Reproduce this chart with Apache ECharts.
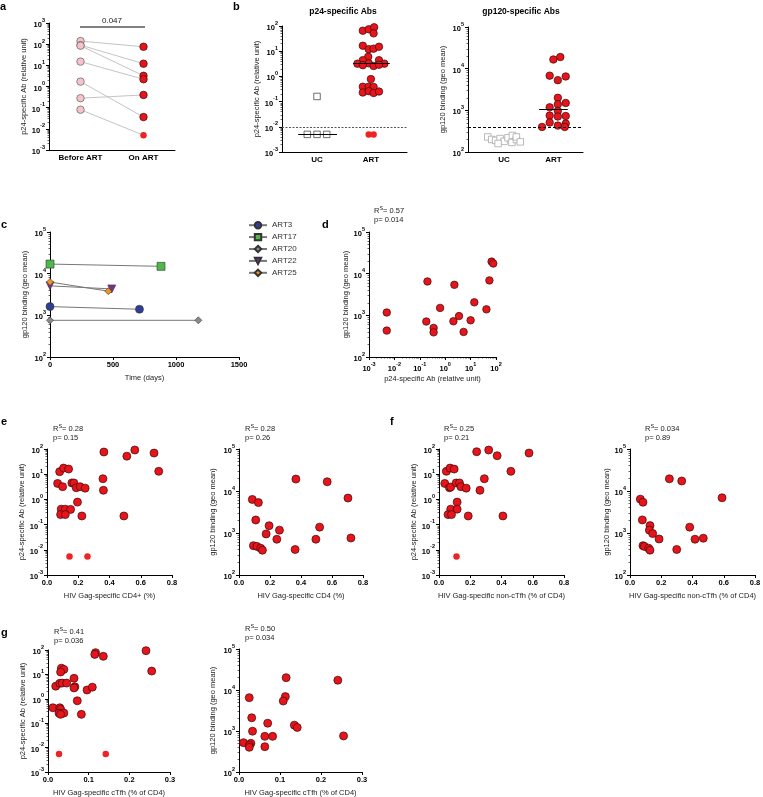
<!DOCTYPE html>
<html><head><meta charset="utf-8">
<script src="https://cdn.jsdelivr.net/npm/echarts@6/dist/echarts.min.js"></script>
<style>html,body{margin:0;padding:0;background:#fff}#c{width:763px;height:797px}</style>
</head><body><div id="c"></div>
<script>
// ---------------- DATA ----------------
// Panel a
const aBefore = [140, 90, 85, 15, 1.7, 0.28, 0.08];
const aOn     = [75, 12, 3.2, 2.2, 0.036, 0.4, 0.005];
const aCats   = ['Before ART', 'On ART'];
// Panel b p24
const bCats = ['UC', 'ART'];
const ucP24 = [0.16, 0.005, 0.005, 0.005];
const ucP24Jit = [0, -0.18, 0, 0.18];
const artP24 = [65,74,89,51, 16.5,12,12.6,15, 6.0, 4.4,4.4,3.2,3.3,3.2,2.6,2.8,2.9, 0.78, 0.39,0.39,0.38, 0.23,0.26,0.22,0.25, 0.005,0.005];
const artP24Jit = [-0.15,-0.04,0.06,0.05, -0.15,-0.04,0.05,0.15, -0.05, -0.15,0.15,-0.25,-0.04,0.25,0.05,-0.15,0.15, 0, -0.15,-0.04,0.05, -0.15,-0.04,0.05,0.15, -0.04,0.05];
const p24Cutoff = 0.014;
const ucP24Median = 0.005, artP24Median = 3.3;
// Panel b gp120
const ucGp = [230,200,190,210,180,220,170,250,200,230,175,160];
const ucGpJit = [-0.33,-0.25,-0.17,-0.08,0,0.08,0.16,0.17,0.25,0.25,0.33,-0.12];
const artGp = [19000,16600,6800,6500,5300,2000,1500,1400,1180,970,750,710,730,510,480,430,400,400];
const artGpJit = [0.14,0,-0.075,0.25,0.09,0.09,0.25,0.09,-0.075,0.09,-0.075,0.09,0.25,-0.075,0.25,0.09,-0.23,0.23];
const gpCutoff = 400, artGpMedian = 1070;
// Panel c
const cNames = ['ART3','ART17','ART20','ART22','ART25'];
const cDays  = [[0,710],[0,881],[0,1177],[0,490],[0,463]];
const cGp    = [[1620,1400],[17000,15000],[760,760],[5100,4300],[6300,3800]];
// Panel d
const dP24 = [0.005,0.005,0.18,0.2,0.35,0.35,0.63,2.3,2.1,3.5,5.3,10,14,42,55,67,78];
const dGp  = [1170,430,710,6500,500,390,1510,5400,720,960,400,760,2050,1390,6900,19500,17500];
// Panel e
const eCD4 = [0.364,0.562,0.511,0.685,0.715,0.081,0.106,0.138,0.068,0.10,0.159,0.172,0.187,0.212,0.244,0.358,0.361,0.195,0.091,0.117,0.151,0.087,0.117,0.223,0.492,0.144,0.259];
const eP24 = [76,91,52,69,13,12.6,17.5,16,4.3,3.2,4.5,4.5,2.9,3.2,2.8,6.6,2.3,0.78,0.41,0.41,0.40,0.25,0.25,0.22,0.22,0.0054,0.0054];
const eCD4g = [0.367,0.569,0.703,0.086,0.125,0.108,0.194,0.261,0.52,0.175,0.244,0.496,0.722,0.093,0.116,0.14,0.151,0.362];
const eGp   = [19200,16600,6800,6300,5300,2040,1490,1170,1380,950,710,710,760,500,480,435,390,405];
// Panel f
const fNon = [0.241,0.318,0.372,0.576,0.46,0.047,0.071,0.097,0.037,0.067,0.075,0.11,0.131,0.14,0.174,0.29,0.262,0.116,0.075,0.116,0.058,0.08,0.187,0.409,0.112];
const fP24 = [78,91,54,69,13,13,17.5,16,4.3,2.9,3.1,4.5,4.5,3.2,2.8,6.6,2.3,0.78,0.41,0.41,0.25,0.25,0.22,0.22,0.0054];
const fNonG = [0.252,0.331,0.589,0.066,0.083,0.079,0.128,0.124,0.382,0.145,0.186,0.416,0.469,0.083,0.092,0.119,0.128,0.299];
const fGp   = [19500,17300,6900,6400,5400,2050,1500,1170,1380,970,720,710,750,500,480,435,390,405];
// Panel g
const gTfh = [0.241,0.117,0.115,0.136,0.255,0.033,0.039,0.031,0.064,0.019,0.029,0.035,0.046,0.066,0.064,0.096,0.109,0.072,0.012,0.029,0.031,0.027,0.039,0.031,0.082,0.027,0.142];
const gP24 = [94,78,66,55,13.7,18,16,12.5,6.9,3.3,4.3,4.4,4.4,3.1,2.8,2.3,3.0,0.83,0.43,0.43,0.37,0.26,0.26,0.23,0.23,0.0055,0.0055];
const gTfhG = [0.115,0.241,0.025,0.113,0.108,0.031,0.070,0.135,0.142,0.033,0.063,0.082,0.255,0.011,0.029,0.025,0.025,0.063];
const gGp   = [20000,17300,6500,6900,5400,2100,1550,1390,1220,990,740,740,760,520,500,450,400,415];
// Stats
const stats = [
  {rs:'0.57', p:'0.014'}, // d
  {rs:'0.28', p:'0.15'},  // e1
  {rs:'0.28', p:'0.26'},  // e2
  {rs:'0.25', p:'0.21'},  // f1
  {rs:'0.034', p:'0.89'}, // f2
  {rs:'0.41', p:'0.036'}, // g1
  {rs:'0.50', p:'0.034'}  // g2
];
const pairP = '0.047';

// ---------------- STYLE / LAYOUT ----------------
const FONT = "'Liberation Sans', Arial, Helvetica, sans-serif";
const RED = '#e8141b', REDB = '#3b0a0a';
const NAME_P24 = 'p24-specific Ab (relative unit)';
const NAME_GP = 'gp120 binding (geo mean)';
const grids = [
  [49,23,126,127],[282,26,125,126],[468,27,115,125],
  [50,232,189,125],[369,232,127,125],
  [47,449,125,126],[239,449,124,126],[439,449,125,126],[630,449,125,126],
  [48,650,122,122],[239,649,123,123]
];
const tickLab = {fontFamily:FONT,fontSize:7.5,fontWeight:'bold',color:'#000'};
const nameStyle = {fontFamily:FONT,fontSize:7.5,color:'#222'};
const axisLine = {show:true,onZero:false,lineStyle:{color:'#000',width:1}};
const axisTick = {show:true,length:3,inside:false,lineStyle:{color:'#000',width:1}};
const supFmt = v => '{b|10}{s|' + Math.round(Math.log10(v)) + '}';
const supRich = {
  b:{fontFamily:FONT,fontSize:7.5,fontWeight:'bold',color:'#000',lineHeight:12,verticalAlign:'bottom'},
  s:{fontFamily:FONT,fontSize:5.5,fontWeight:'bold',color:'#000',lineHeight:7,verticalAlign:'top'}
};
function addName(ax, name, gap, isX){
  if(!name) return ax;
  ax.name = name; ax.nameLocation = 'middle'; ax.nameGap = gap; ax.nameTextStyle = nameStyle;
  if(!isX) ax.nameRotate = 90;
  return ax;
}
function logAxis(grid,min,max,name,gap,isX){
  return addName({type:'log',logBase:10,gridIndex:grid,min,max,axisLine,axisTick,
    minorTick:{show:true,splitNumber:9,length:1.5,lineStyle:{color:'#000',width:0.6}},
    splitLine:{show:false},minorSplitLine:{show:false},
    axisLabel:{formatter:supFmt,rich:supRich,margin:4}}, name, gap, isX);
}
function valAxis(grid,min,max,interval,name,gap,fmt){
  return addName({type:'value',gridIndex:grid,min,max,interval,axisLine,axisTick,
    splitLine:{show:false},
    axisLabel:Object.assign({formatter:fmt,margin:4},tickLab)}, name, gap, true);
}
function catAxis(grid,min,max,labels){
  return {type:'value',gridIndex:grid,min,max,axisLine,axisTick:{show:false},splitLine:{show:false},
    axisLabel:Object.assign({customValues:[1,2],formatter:v=>labels[Math.round(v)-1]||'',margin:4},tickLab,{fontSize:8})};
}
// points below detection limit are drawn as plain, slightly smaller dots
const LOD = 0.006;
function pt(x,y){
  return y <= LOD ? {value:[x,y],symbolSize:6.5,itemStyle:{borderWidth:0,color:'#ee2424',opacity:1}} : [x,y];
}
const zip = (a,b)=>a.map((v,i)=>pt(v,b[i]));
function scat(i,data,opt){
  const s = Object.assign({type:'scatter',xAxisIndex:i,yAxisIndex:i,data,symbol:'circle',symbolSize:8,clip:false,silent:true,z:3,
    itemStyle:{color:RED,borderColor:REDB,borderWidth:0.7}},opt||{});
  s.itemStyle = Object.assign({opacity:1}, s.itemStyle);
  return s;
}
function hSeg(x1,x2,y){ return [{coord:[x1,y]},{coord:[x2,y]}]; }

const xAxes = [
  catAxis(0,0.5,2.5,aCats),
  catAxis(1,0.35,2.67,bCats),
  catAxis(2,0.27,2.6,bCats),
  valAxis(3,0,1500,500,'Time (days)',17,v=>String(v)),
  logAxis(4,0.001,100,NAME_P24,18,true),
  valAxis(5,0,0.8,0.2,'HIV Gag-specific CD4+ (%)',17,v=>v.toFixed(1)),
  valAxis(6,0,0.8,0.2,'HIV Gag-specific CD4 (%)',17,v=>v.toFixed(1)),
  valAxis(7,0,0.8,0.2,'HIV Gag-specific non-cTfh (% of CD4)',17,v=>v.toFixed(1)),
  valAxis(8,0,0.8,0.2,'HIV Gag-specific non-cTfh (% of CD4)',17,v=>v.toFixed(1)),
  valAxis(9,0,0.3,0.1,'HIV Gag-specific cTfh (% of CD4)',17,v=>v.toFixed(1)),
  valAxis(10,0,0.3,0.1,'HIV Gag-specific cTfh (% of CD4)',17,v=>v.toFixed(1))
];
const yAxes = [
  logAxis(0,0.001,1000,NAME_P24,20),
  logAxis(1,0.001,100,NAME_P24,19),
  logAxis(2,100,100000,NAME_GP,21),
  logAxis(3,100,100000,NAME_GP,21),
  logAxis(4,100,100000,NAME_GP,18),
  logAxis(5,0.001,100,NAME_P24,19),
  logAxis(6,100,100000,NAME_GP,22),
  logAxis(7,0.001,100,NAME_P24,20),
  logAxis(8,100,100000,NAME_GP,17),
  logAxis(9,0.001,100,NAME_P24,19),
  logAxis(10,100,100000,NAME_GP,22)
];

const series = [];
// a
aBefore.forEach((b,i)=>series.push({type:'line',xAxisIndex:0,yAxisIndex:0,data:[[1,b],[2,aOn[i]]],symbol:'none',silent:true,z:1,
  lineStyle:{color:'#c4c4c4',width:1}}));
series.push(scat(0,aBefore.map(v=>[1,v]),{symbolSize:7.5,itemStyle:{color:'#f6c3ca',borderColor:'#6f6f6f',borderWidth:0.8}}));
series.push(scat(0,aOn.map(v=>pt(2,v)),{symbolSize:7.5}));
// b p24
const mlBase = {symbol:['none','none'],silent:true,label:{show:false},emphasis:{disabled:true}};
series.push(scat(1,ucP24.map((v,i)=>[1+ucP24Jit[i],v]),{symbol:'rect',symbolSize:6.5,itemStyle:{color:'#fff',borderColor:'#4a4a4a',borderWidth:0.8},
  markLine:Object.assign({},mlBase,{data:[hSeg(0.65,1.37,ucP24Median)],lineStyle:{color:'#000',width:1,type:'solid'}})}));
series.push(scat(1,artP24.map((v,i)=>pt(2+artP24Jit[i],v)),{symbolSize:7.5,
  markLine:Object.assign({},mlBase,{data:[hSeg(1.67,2.35,artP24Median)],lineStyle:{color:'#000',width:1,type:'solid'}})}));
series.push({type:'line',xAxisIndex:1,yAxisIndex:1,data:[],markLine:Object.assign({},mlBase,{data:[{yAxis:p24Cutoff}],lineStyle:{color:'#555',width:1,type:[2,1.5]}})});
// b gp120
series.push(scat(2,ucGp.map((v,i)=>[1+ucGpJit[i],v]),{symbol:'rect',symbolSize:6.5,itemStyle:{color:'#fff',borderColor:'#a8a8a8',borderWidth:0.8}}));
series.push(scat(2,artGp.map((v,i)=>[2+artGpJit[i],v]),{symbolSize:7.5,
  markLine:Object.assign({},mlBase,{data:[hSeg(1.71,2.29,artGpMedian)],lineStyle:{color:'#000',width:1,type:'solid'}})}));
series.push({type:'line',xAxisIndex:2,yAxisIndex:2,data:[],markLine:Object.assign({},mlBase,{data:[{yAxis:gpCutoff}],lineStyle:{color:'#000',width:1,type:[3,2]}})});
// c
const cStyle = [
  {symbol:'circle',size:8,color:'#2f3f95',rot:0},
  {symbol:'rect',size:8,color:'#4fb848',rot:0},
  {symbol:'diamond',size:7,color:'#8a8a8a',rot:0},
  {symbol:'triangle',size:8,color:'#7e2e8f',rot:180},
  {symbol:'diamond',size:7,color:'#f39321',rot:0}
];
cNames.forEach((n,i)=>series.push({type:'line',name:n,xAxisIndex:3,yAxisIndex:3,data:cDays[i].map((d,j)=>[d,cGp[i][j]]),
  symbol:cStyle[i].symbol,symbolSize:cStyle[i].size,symbolRotate:cStyle[i].rot,showAllSymbol:true,clip:false,silent:true,
  itemStyle:{color:cStyle[i].color,borderColor:'#333',borderWidth:0.6,opacity:1},lineStyle:{color:'#777',width:1},z:3}));
// d
series.push(scat(4,dP24.map((v,i)=>[v,dGp[i]]),{symbolSize:7.5}));
// e, f, g
series.push(scat(5,zip(eCD4,eP24)));
series.push(scat(6,zip(eCD4g,eGp)));
series.push(scat(7,zip(fNon,fP24)));
series.push(scat(8,zip(fNonG,fGp)));
series.push(scat(9,zip(gTfh,gP24)));
series.push(scat(10,zip(gTfhG,gGp)));

// ---------------- TEXT ----------------
function txt(x,y,text,size,weight,align,extra){
  return {type:'text',x,y,silent:true,z:10,style:Object.assign({text,fill:'#000',
    font:(weight||'normal')+' '+size+'px '+FONT,
    textAlign:align||'left',align:align||'left',textVerticalAlign:'middle',verticalAlign:'middle'},extra||{})};
}
const statRich = {
  r:{fontFamily:FONT,fontSize:7.5,fill:'#222',color:'#222',lineHeight:10,verticalAlign:'bottom'},
  s:{fontFamily:FONT,fontSize:5.5,fill:'#222',color:'#222',lineHeight:6,verticalAlign:'top'}
};
function statText(x,y,st){
  return [
    txt(x,y,'{r|R}{s|S}{r|= '+st.rs+'}',7.5,'normal','left',{rich:statRich}),
    txt(x,y+9.5,'p= '+st.p,7.5,'normal','left',{fill:'#222'})
  ];
}
const statPos = [[374,210],[53,428],[245,428],[444,428],[645,428],[54,631],[245,628]];
const graphics = [
  txt(0,7,'a',11,'bold'), txt(233,7,'b',11,'bold'), txt(1,225,'c',11,'bold'), txt(322,225,'d',11,'bold'),
  txt(1,422,'e',11,'bold'), txt(390,422,'f',11,'bold'), txt(1,633,'g',11,'bold'),
  txt(343,12,'p24-specific Abs',8.5,'bold','center'),
  txt(521,12,'gp120-specific Abs',8.5,'bold','center'),
  txt(112,21,pairP,8,'normal','center',{fill:'#222'}),
  {type:'line',silent:true,shape:{x1:80,y1:27,x2:145,y2:27},style:{stroke:'#000',lineWidth:1}}
];
stats.forEach((st,i)=>graphics.push(...statText(statPos[i][0],statPos[i][1],st)));

const option = {
  animation:false,
  backgroundColor:'#fff',
  grid: grids.map(g=>({left:g[0],top:g[1],width:g[2],height:g[3],containLabel:false,outerBoundsMode:'none'})),
  xAxis:xAxes, yAxis:yAxes, series,
  legend:{data:cNames,orient:'vertical',left:243,top:216,itemWidth:18,itemHeight:8,itemGap:3.5,selectedMode:false,
    textStyle:{fontFamily:FONT,fontSize:8,color:'#333'}},
  graphic:graphics
};
const chart = echarts.init(document.getElementById('c'),null,{renderer:'canvas'});
chart.setOption(option);
</script></body></html>
